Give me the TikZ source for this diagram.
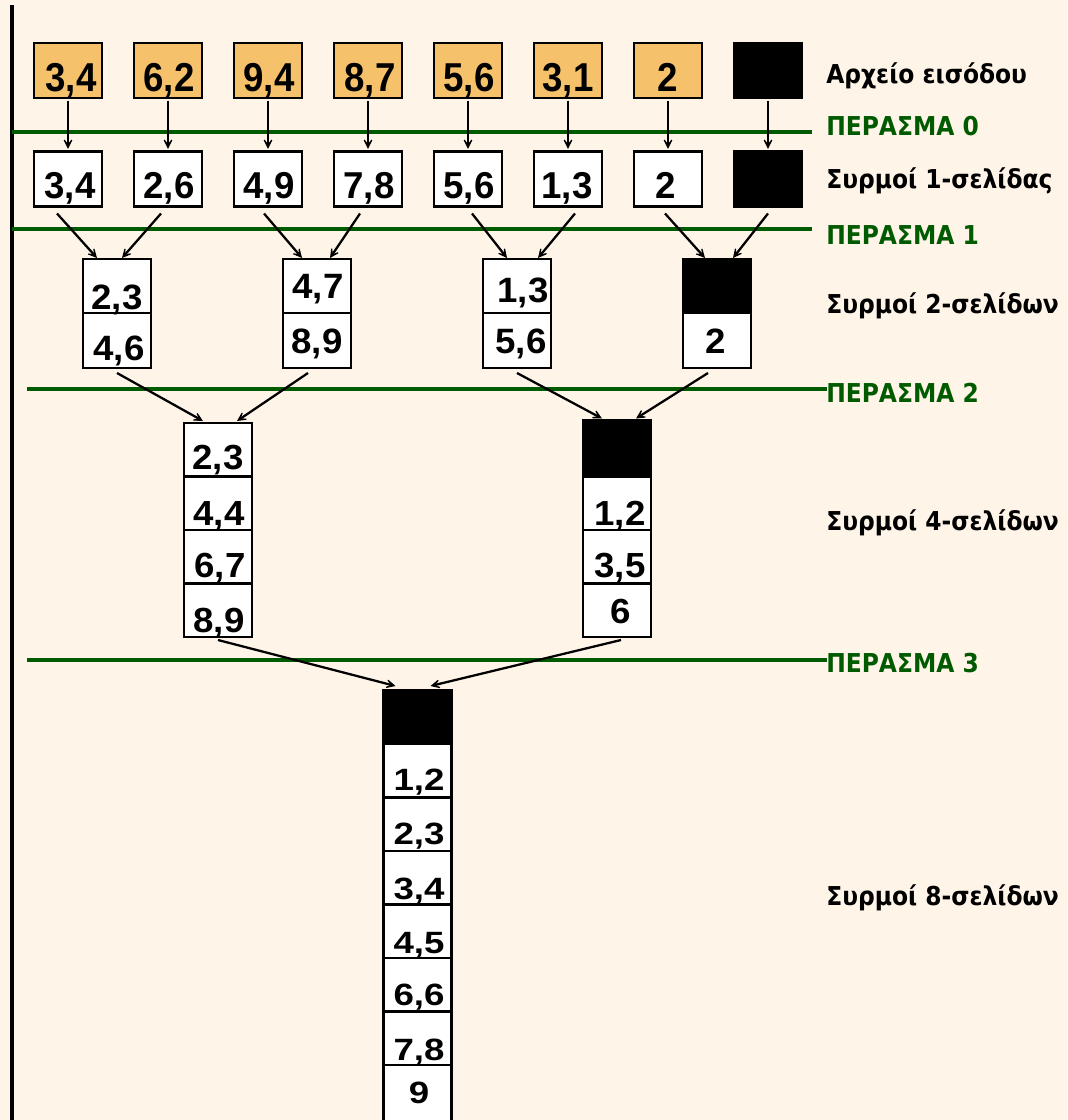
\documentclass[tikz,border=0pt]{standalone}
\usepackage{graphicx}
\usepackage{fontspec}
\setmainfont{Liberation Sans}
\newfontfamily\lblfont{DejaVu Sans}[FakeStretch=0.9]
\usetikzlibrary{arrows.meta}

\definecolor{paper}{HTML}{FEF4E8}
\definecolor{inputfill}{HTML}{F5C26B}
\definecolor{passgreen}{HTML}{005A00}

% numbers in the page boxes, stretched vertically per level
\newcommand{\pnum}[2]{\scalebox{1}[#1]{#2}}

\tikzset{
  pagebox/.style={draw=black, line width=2pt, minimum width=51pt,
    minimum height=41.25pt, inner sep=0pt, outer sep=0pt},
  inbox/.style={pagebox, fill=inputfill},
  runbox/.style={pagebox, fill=white},
  nullbox/.style={pagebox, fill=black},
  cell/.style={draw=black, line width=2pt, minimum width=51pt,
    minimum height=#1, inner sep=0pt, outer sep=0pt, fill=white},
  nullcell/.style={cell=#1, fill=black},
  num/.style={font=\bfseries\fontsize{27.5pt}{27.5pt}\selectfont,
    anchor=base, inner sep=0pt},
  arr/.style={line width=1.7pt,
    -{Stealth[length=11pt, width=11pt, inset=7.5pt]}},
  passline/.style={draw=passgreen, line width=2.3pt},
  lbl/.style={font=\lblfont\bfseries\fontsize{19.5pt}{20pt}\selectfont,
    anchor=base west, inner sep=0pt},
  passlbl/.style={lbl, text=passgreen},
}

\begin{document}
\begin{tikzpicture}[x=0.75pt, y=-0.75pt]
  \fill[paper] (0,0) rectangle (1067,1120);
  \useasboundingbox (0,0) rectangle (1067,1120);

  % left rule
  \draw[line width=2.3pt] (12,5) -- (12,1125);

  % pass separators
  \draw[passline] (12,132) -- (812,132);
  \draw[passline] (12,229) -- (812,229);
  \draw[passline] (27,389) -- (827,389);
  \draw[passline] (27,660) -- (827,660);

  % right-hand labels
  \node[lbl]     (lin)  at (826,84)  {Αρχείο εισόδου};
  \node[passlbl] (lp0)  at (826,136) {ΠΕΡΑΣΜΑ 0};
  \node[lbl]     (l1)   at (826,188) {Συρμοί 1-σελίδας};
  \node[passlbl] (lp1)  at (826,244) {ΠΕΡΑΣΜΑ 1};
  \node[lbl]     (l2)   at (826,313) {Συρμοί 2-σελίδων};
  \node[passlbl] (lp2)  at (826,402) {ΠΕΡΑΣΜΑ 2};
  \node[lbl]     (l4)   at (826,530) {Συρμοί 4-σελίδων};
  \node[passlbl] (lp3)  at (826,672) {ΠΕΡΑΣΜΑ 3};
  \node[lbl]     (l8)   at (826,905) {Συρμοί 8-σελίδων};

  % input file pages
  \node[inbox] (i1) at (68,70.5)  {};
  \node[inbox] (i2) at (168,70.5) {};
  \node[inbox] (i3) at (268,70.5) {};
  \node[inbox] (i4) at (368,70.5) {};
  \node[inbox] (i5) at (468,70.5) {};
  \node[inbox] (i6) at (568,70.5) {};
  \node[inbox] (i7) at (668,70.5) {};
  \node[nullbox] (i8) at (768,70.5) {};
  \node[num] (ti1) at (71,92)  {\pnum{1.1}{3,4}};
  \node[num] (ti2) at (169,92) {\pnum{1.1}{6,2}};
  \node[num] (ti3) at (269,92) {\pnum{1.1}{9,4}};
  \node[num] (ti4) at (370,92) {\pnum{1.1}{8,7}};
  \node[num] (ti5) at (469,92) {\pnum{1.1}{5,6}};
  \node[num] (ti6) at (568,92) {\pnum{1.1}{3,1}};
  \node[num] (ti7) at (668,92) {\pnum{1.1}{2}};

  % 1-page runs
  \node[runbox] (s1) at (68,179)  {};
  \node[runbox] (s2) at (168,179) {};
  \node[runbox] (s3) at (268,179) {};
  \node[runbox] (s4) at (368,179) {};
  \node[runbox] (s5) at (468,179) {};
  \node[runbox] (s6) at (568,179) {};
  \node[runbox] (s7) at (668,179) {};
  \node[nullbox] (s8) at (768,179) {};
  \node[num] (ts1) at (70,199)  {\pnum{1.02}{3,4}};
  \node[num] (ts2) at (169,199) {\pnum{1.02}{2,6}};
  \node[num] (ts3) at (269,199) {\pnum{1.02}{4,9}};
  \node[num] (ts4) at (369,199) {\pnum{1.02}{7,8}};
  \node[num] (ts5) at (469,199) {\pnum{1.02}{5,6}};
  \node[num] (ts6) at (567,199) {\pnum{1.02}{1,3}};
  \node[num] (ts7) at (666,199) {\pnum{1.02}{2}};

  \foreach \k in {1,...,8}
    \draw[arr] ([yshift=-2pt]i\k.south) -- ([yshift=2pt]s\k.north);

  % 2-page runs
  \foreach \k/\x in {1/117, 2/317, 3/517, 4/717} {
    \node[cell=40.5pt]  (m\k a) at (\x,286)   {};
    \node[cell=41.25pt] (m\k b) at (\x,340.5) {};
  }
  \node[nullcell=40.5pt] (m4a) at (717,286) {};
  \node[num] (tm1a) at (117,309) {\pnum{0.96}{2,3}};
  \node[num] (tm1b) at (119,360) {\pnum{0.96}{4,6}};
  \node[num] (tm2a) at (318,298) {\pnum{0.96}{4,7}};
  \node[num] (tm2b) at (317,353) {\pnum{0.96}{8,9}};
  \node[num] (tm3a) at (523,302) {\pnum{0.96}{1,3}};
  \node[num] (tm3b) at (521,353) {\pnum{0.96}{5,6}};
  \node[num] (tm4b) at (716,353) {\pnum{0.96}{2}};

  \draw[arr] ([shift={(-11,7)}]s1.south) -- ([shift={(-20,-1)}]m1a.north);
  \draw[arr] ([shift={(-7,7)}]s2.south)  -- ([shift={(5,-1)}]m1a.north);
  \draw[arr] ([shift={(-4,7)}]s3.south)  -- ([shift={(-15,-1)}]m2a.north);
  \draw[arr] ([shift={(-8,7)}]s4.south)  -- ([shift={(13,-1)}]m2a.north);
  \draw[arr] ([shift={(4,7)}]s5.south)   -- ([shift={(-10,-1)}]m3a.north);
  \draw[arr] ([shift={(7,7)}]s6.south)   -- ([shift={(21,-1)}]m3a.north);
  \draw[arr] ([shift={(-3,7)}]s7.south)  -- ([shift={(-12,-1)}]m4a.north);
  \draw[arr] ([shift={(0,7)}]s8.south)   -- ([shift={(16,-1)}]m4a.north);

  % 4-page runs
  \foreach \k/\x in {1/218, 2/617} {
    \node[cell=40.125pt] (q\k a) at (\x,449.75) {};
    \node[cell=40.125pt] (q\k b) at (\x,503.25) {};
    \node[cell=40.125pt] (q\k c) at (\x,556.75) {};
    \node[cell=40.125pt] (q\k d) at (\x,610.25) {};
  }
  \node[nullcell=42pt] (q2a) at (617,448.5) {};
  \node[num] (tq1a) at (218,469) {\pnum{0.95}{2,3}};
  \node[num] (tq1b) at (219,525) {\pnum{0.95}{4,4}};
  \node[num] (tq1c) at (220,577) {\pnum{0.95}{6,7}};
  \node[num] (tq1d) at (219,632) {\pnum{0.95}{8,9}};
  \node[num] (tq2b) at (620,525) {\pnum{0.95}{1,2}};
  \node[num] (tq2c) at (620,577) {\pnum{0.95}{3,5}};
  \node[num] (tq2d) at (621,623) {\pnum{0.95}{6}};

  \draw[arr] ([shift={(0,5)}]m1b.south)  -- ([shift={(-15,-2)}]q1a.north);
  \draw[arr] ([shift={(-9,5)}]m2b.south) -- ([shift={(19,-2)}]q1a.north);
  \draw[arr] ([shift={(0,5)}]m3b.south)  -- ([shift={(-15,-2)}]q2a.north);
  \draw[arr] ([shift={(-9,5)}]m4b.south) -- ([shift={(19,-2)}]q2a.north);

  % 8-page run
  \node[nullcell=40.5pt] (r0) at (417.5,717) {};
  \node[cell=40.125pt] (r1) at (417.5,770.75) {};
  \node[cell=40.125pt] (r2) at (417.5,824.25) {};
  \node[cell=40.125pt] (r3) at (417.5,877.75) {};
  \node[cell=40.125pt] (r4) at (417.5,931.25) {};
  \node[cell=40.125pt] (r5) at (417.5,984.75) {};
  \node[cell=40.125pt] (r6) at (417.5,1038.25) {};
  \node[cell=45pt]     (r7) at (417.5,1095) {};
  \node[num] (tr1) at (419,790)  {\pnum{0.84}{1,2}};
  \node[num] (tr2) at (419,844)  {\pnum{0.84}{2,3}};
  \node[num] (tr3) at (419,899)  {\pnum{0.84}{3,4}};
  \node[num] (tr4) at (419,953)  {\pnum{0.84}{4,5}};
  \node[num] (tr5) at (419,1005) {\pnum{0.84}{6,6}};
  \node[num] (tr6) at (419,1060) {\pnum{0.84}{7,8}};
  \node[num] (tr7) at (419,1103) {\pnum{0.84}{9}};

  \draw[arr] ([shift={(0,3)}]q1d.south) -- ([shift={(-22,-4)}]r0.north);
  \draw[arr] ([shift={(4,3)}]q2d.south) -- ([shift={(13,-4)}]r0.north);
\end{tikzpicture}
\end{document}
